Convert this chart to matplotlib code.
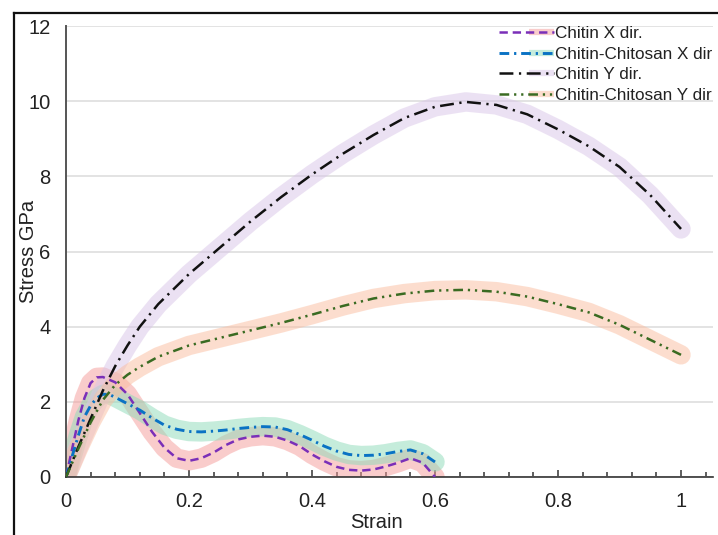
import numpy as np
import matplotlib
matplotlib.use("Agg")
import matplotlib.pyplot as plt
from matplotlib.lines import Line2D
from matplotlib.legend_handler import HandlerBase
from matplotlib.ticker import MultipleLocator

plt.rcParams["font.family"] = ["Liberation Sans", "DejaVu Sans"]
plt.rcParams["lines.scale_dashes"] = False

# ---- data: strain vs stress (GPa) ----
chitin_x_strain = [0, 0.01, 0.02, 0.03, 0.04, 0.05, 0.06, 0.08, 0.10, 0.12, 0.14, 0.16,
                   0.18, 0.20, 0.22, 0.24, 0.26, 0.28, 0.30, 0.32, 0.34, 0.36, 0.38,
                   0.40, 0.42, 0.44, 0.46, 0.48, 0.50, 0.52, 0.54, 0.56, 0.58, 0.60]
chitin_x_stress = [0, 0.75, 1.5, 2.1, 2.5, 2.65, 2.66, 2.52, 2.2, 1.7, 1.2, 0.78,
                   0.5, 0.43, 0.5, 0.65, 0.85, 1.0, 1.07, 1.1, 1.07, 0.97, 0.82,
                   0.6, 0.42, 0.27, 0.19, 0.17, 0.2, 0.28, 0.38, 0.5, 0.38, 0.0]

cc_x_strain = [0, 0.01, 0.02, 0.03, 0.04, 0.05, 0.06, 0.07, 0.08, 0.10, 0.12, 0.14,
               0.16, 0.18, 0.20, 0.22, 0.24, 0.26, 0.28, 0.30, 0.32, 0.34, 0.36,
               0.38, 0.40, 0.42, 0.44, 0.46, 0.48, 0.50, 0.52, 0.54, 0.56, 0.58, 0.60]
cc_x_stress = [0, 0.55, 1.1, 1.6, 1.9, 2.1, 2.2, 2.2, 2.12, 1.95, 1.78, 1.57,
               1.38, 1.27, 1.21, 1.2, 1.22, 1.25, 1.29, 1.32, 1.34, 1.33, 1.26,
               1.13, 0.98, 0.82, 0.69, 0.6, 0.57, 0.58, 0.62, 0.68, 0.72, 0.62, 0.4]

chitin_y_strain = [0, 0.02, 0.04, 0.06, 0.08, 0.10, 0.12, 0.15, 0.20, 0.25, 0.30, 0.35,
                   0.40, 0.45, 0.50, 0.55, 0.60, 0.65, 0.70, 0.75, 0.80, 0.85, 0.90,
                   0.95, 1.00]
chitin_y_stress = [0, 0.8, 1.55, 2.3, 2.95, 3.5, 4.0, 4.6, 5.4, 6.1, 6.8, 7.45,
                   8.05, 8.6, 9.1, 9.55, 9.85, 9.98, 9.9, 9.65, 9.25, 8.8, 8.25,
                   7.5, 6.6]

cc_y_strain = [0, 0.02, 0.04, 0.06, 0.08, 0.10, 0.12, 0.15, 0.20, 0.25, 0.30, 0.35,
               0.40, 0.45, 0.50, 0.55, 0.60, 0.65, 0.70, 0.75, 0.80, 0.85, 0.90,
               0.95, 1.00]
cc_y_stress = [0, 0.75, 1.45, 2.05, 2.45, 2.72, 2.93, 3.2, 3.5, 3.7, 3.9, 4.1,
               4.32, 4.55, 4.75, 4.88, 4.96, 4.98, 4.93, 4.8, 4.6, 4.38, 4.05,
               3.65, 3.25]

labels = ["Chitin X dir.", "Chitin-Chitosan X dir", "Chitin Y dir.", "Chitin-Chitosan Y dir"]
x_ticks = [0, 0.2, 0.4, 0.6, 0.8, 1.0]
x_tick_labels = ["0", "0.2", "0.4", "0.6", "0.8", "1"]
y_ticks = [0, 2, 4, 6, 8, 10, 12]
y_tick_labels = ["0", "2", "4", "6", "8", "10", "12"]

# ---- styles ----
series = [
    dict(x=chitin_x_strain, y=chitin_x_stress, color="#7a2fb8", lw=1.8,
         dashes=(6, 3.5), glow="#f59b99"),
    dict(x=cc_x_strain, y=cc_x_stress, color="#0a72c4", lw=2.1,
         dashes=(7, 3.5, 1.6, 3.5), glow="#8ddbb8"),
    dict(x=chitin_y_strain, y=chitin_y_stress, color="#111111", lw=1.8,
         dashes=(10, 4, 1.6, 4), glow="#d9c5e8"),
    dict(x=cc_y_strain, y=cc_y_stress, color="#3a6b22", lw=1.8,
         dashes=(7, 3.5, 1.6, 3.5, 1.6, 3.5), glow="#fbbd9f"),
]
GLOW_ALPHA = 0.5

fig = plt.figure(figsize=(7.18, 5.35), dpi=100)
ax_l, ax_r, ax_t, ax_b = 66, 713, 26, 477
ax = fig.add_axes([ax_l / 718, 1 - ax_b / 535, (ax_r - ax_l) / 718, (ax_b - ax_t) / 535])

handles = []
for s in series:
    g, = ax.plot(s["x"], s["y"], color=s["glow"], alpha=GLOW_ALPHA, lw=14,
                 solid_capstyle="round", solid_joinstyle="round", zorder=2)
    ln, = ax.plot(s["x"], s["y"], color=s["color"], lw=s["lw"],
                  linestyle=(0, s["dashes"]), dash_capstyle="butt", zorder=4)
    handles.append((ln, g))

ax.set_xlim(0, 1.052)
ax.set_ylim(0, 12)

ax.set_xticks(x_ticks)
ax.set_xticklabels(x_tick_labels)
ax.xaxis.set_minor_locator(MultipleLocator(0.04))
ax.set_yticks(y_ticks)
ax.set_yticklabels(y_tick_labels)

ax.tick_params(axis="x", which="major", direction="in", length=5, width=1.1,
               color="#333333", labelsize=14.5, pad=11, labelcolor="#222222")
ax.tick_params(axis="x", which="minor", direction="in", length=3.8, width=1.1,
               color="#333333")
ax.tick_params(axis="y", which="major", length=0, labelsize=14.5, pad=11,
               labelcolor="#222222")

ax.grid(axis="y", color="#dedede", lw=1.2, zorder=0)
ax.set_axisbelow(True)

for side in ("top", "right"):
    ax.spines[side].set_visible(False)
ax.spines["bottom"].set_color("#333333")
ax.spines["bottom"].set_linewidth(1.2)
ax.spines["left"].set_color("#555555")
ax.spines["left"].set_linewidth(1.4)

ax.set_xlabel("Strain", fontsize=14.5, color="#222222")
ax.xaxis.set_label_coords((376 - ax_l) / (ax_r - ax_l), (ax_b - 513) / (ax_b - ax_t))
ax.set_ylabel("Stress GPa", fontsize=14.5, color="#222222")
ax.yaxis.set_label_coords((38 - ax_l) / (ax_r - ax_l), 0.5)


class HandlerGlowLine(HandlerBase):
    def create_artists(self, legend, orig_handle, xdescent, ydescent,
                       width, height, fontsize, trans):
        line, glow = orig_handle
        x0 = -xdescent
        x1 = x0 + width
        yc = -ydescent + height / 2
        g = Line2D([x0 + 0.55 * width, x1], [yc, yc], color=glow.get_color(),
                   alpha=GLOW_ALPHA, lw=4.5, solid_capstyle="butt")
        ln = Line2D([x0, x1], [yc, yc])
        ln.update_from(line)
        g.set_transform(trans)
        ln.set_transform(trans)
        return [g, ln]


leg = ax.legend(handles, labels, handler_map={tuple: HandlerGlowLine()},
                loc="upper left", bbox_to_anchor=(499 / 718, 1 - 26 / 535),
                bbox_transform=fig.transFigure, frameon=False, fontsize=12.3,
                handlelength=3.2, handletextpad=0.1, labelspacing=0.33,
                borderpad=0.0, borderaxespad=0.0)
for t in leg.get_texts():
    t.set_color("#222222")

# outer frame (left and top edges)
fig.add_artist(Line2D([13.5 / 718, 13.5 / 718], [0, 1 - 12.8 / 535],
                      transform=fig.transFigure, color="#111111", lw=1.6))
fig.add_artist(Line2D([13.5 / 718, 1], [1 - 12.8 / 535, 1 - 12.8 / 535],
                      transform=fig.transFigure, color="#111111", lw=1.6))

fig.savefig("out.png", dpi=100)
